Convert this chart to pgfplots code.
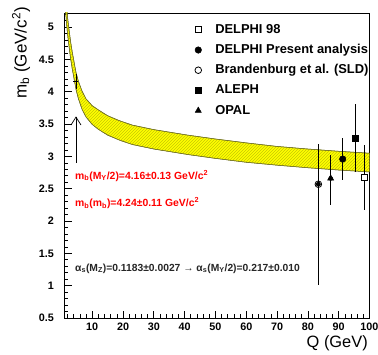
\documentclass[border=0pt]{standalone}
\usepackage{fontspec}
\setmainfont{Liberation Sans}
\usepackage{pgfplots}
\pgfplotsset{compat=1.18}
\usetikzlibrary{patterns,arrows.meta}
\definecolor{bandyellow}{RGB}{255,255,0}
\definecolor{hatch}{RGB}{200,200,0}
\definecolor{bandedge}{RGB}{110,110,40}
\begin{document}
\begin{tikzpicture}
\useasboundingbox (0,0) rectangle (378pt,354pt);
\begin{axis}[
  at={(64.5pt,36pt)}, anchor=south west,
  scale only axis, width=305pt, height=305pt,
  xmin=1, xmax=100, ymin=0.5, ymax=5.22,
  clip mode=individual,
  xtick={10,20,...,100}, ytick={0.5,1,1.5,2,2.5,3,3.5,4,4.5,5},
  minor xtick={2,4,...,98},
  minor ytick={0.6,0.7,0.8,0.9,1.1,1.2,1.3,1.4,1.6,1.7,1.8,1.9,2.1,2.2,2.3,2.4,2.6,2.7,2.8,2.9,3.1,3.2,3.3,3.4,3.6,3.7,3.8,3.9,4.1,4.2,4.3,4.4,4.6,4.7,4.8,4.9,5.1,5.2},
  tick pos=left, tick align=inside,
  major tick length=7pt, minor tick length=3.5pt,
  axis line style={line width=0.9pt},
  every tick/.style={black, line width=0.7pt},
  ticklabel style={font=\bfseries\fontsize{10.8}{12}\selectfont},
  yticklabel style={xshift=-7pt},
  xticklabel style={yshift=-1pt},
  /pgf/number format/assume math mode=true,
  legend style={at={(rel axis cs:0.415,0.975)}, anchor=north west, draw=none, fill=none,
    font=\bfseries\fontsize{12.9}{14}\selectfont, row sep=6.2pt,
    nodes={inner sep=1pt, text height=9.5pt, text depth=2.5pt}},
  legend cell align=left,
  legend image code/.code={\path[draw=none,fill=none] (-4pt,0pt) -- (16pt,0pt); \draw[#1] plot coordinates {(0pt,0pt)};},
]
% band
\addplot[forget plot, fill=bandyellow, draw=bandedge, line width=0.5pt,
  postaction={pattern=north east lines, pattern color=hatch}] coordinates {
(1.3,5.55) (1.6,5.35) (2.0,5.15) (2.5,4.95) (3.0,4.77) (3.5,4.62) (4.0,4.49) (4.73,4.30)
(5.5,4.165) (6.7,4.01) (8.0,3.89) (10,3.785) (12,3.72) (15,3.63) (19,3.55) (23,3.485)
(30,3.415) (41,3.33) (50,3.27) (60,3.21) (70,3.155) (80,3.115) (90,3.08) (100,3.05)
(100,2.76) (90,2.79) (80,2.825) (70,2.865) (60,2.91) (50,2.97) (41,3.03) (30,3.115)
(23,3.185) (19,3.25) (15,3.33) (12,3.42) (10,3.495) (8.0,3.61) (6.7,3.73) (5.5,3.895)
(4.73,4.04) (4.0,4.23) (3.5,4.36) (3.0,4.51) (2.5,4.69) (2.0,4.89) (1.6,5.09) (1.3,5.29)
};
% total error bars
\addplot[forget plot, only marks, mark=none, black,
  error bars/.cd, y dir=both, y explicit, error mark=none,
  error bar style={black, line width=0.8pt}] coordinates {
(98.2,2.68) += (0,0.50) -= (0,0.51)
(91.3,2.96) += (0,0.32) -= (0,0.32)
(83.4,2.57) += (0,0.63) -= (0,1.56)
(95.3,3.28) += (0,0.53) -= (0,0.52)
(87.4,2.66) += (0,0.37) -= (0,0.41)
};
% stat error bars
\addplot[forget plot, only marks, mark=none, black,
  error bars/.cd, y dir=both, y explicit,
  error bar style={black, line width=0.8pt},
  error mark options={black, mark size=4pt, line width=0.8pt}] coordinates {
(98.2,2.68) +- (0,0.25)
(91.3,2.96) += (0,0.17) -= (0,0.18)
(83.4,2.57) += (0,0.26) -= (0,0.27)
(95.3,3.28) +- (0,0.22)
};
% point at M_Y/2
\addplot[forget plot, only marks, mark=+, mark size=2.5pt, black, line width=0.8pt,
  error bars/.cd, y dir=both, y explicit, error mark=none,
  error bar style={black, line width=0.8pt}] coordinates {(4.73,4.16) +- (0,0.12)};
% markers
\addplot[only marks, mark=square*, mark size=3pt, black, mark options={fill=white, line width=0.8pt}]
  coordinates {(98.2,2.68)};
\addlegendentry{DELPHI 98}
\addplot[only marks, mark=*, mark size=3.3pt, black] coordinates {(91.3,2.96)};
\addlegendentry{DELPHI Present analysis}
\addplot[only marks, mark=o, mark size=3.3pt, black, mark options={fill=white, line width=0.8pt}]
  coordinates {(83.4,2.57)};
\addlegendentry{Brandenburg et al. (SLD)}
\addplot[only marks, mark=square*, mark size=3pt, black] coordinates {(95.3,3.28)};
\addlegendentry{ALEPH}
\addplot[only marks, mark=triangle*, mark size=3.6pt, black] coordinates {(87.4,2.66)};
\addlegendentry{OPAL}
% annotations
\draw[-{Straight Barb[length=8pt,width=10pt]}, line width=0.7pt] (axis cs:4.73,2.9) -- (axis cs:4.73,3.62);
\node[anchor=base west, inner sep=0pt, red, font=\bfseries\fontsize{10.4}{12}\selectfont]
  at (axis cs:4.4,2.65) {m\textsubscript{b}(M\textsubscript{Υ}/2)=4.16±0.13 GeV/c\textsuperscript{2}};
\node[anchor=base west, inner sep=0pt, red, font=\bfseries\fontsize{10.4}{12}\selectfont]
  at (axis cs:4.4,2.23) {m\textsubscript{b}(m\textsubscript{b})=4.24±0.11 GeV/c\textsuperscript{2}};
\node[anchor=base west, inner sep=0pt, black!85, font=\bfseries\fontsize{10.3}{12}\selectfont]
  at (axis cs:4.4,1.227) {α\textsubscript{s}(M\textsubscript{Z})=0.1183±0.0027 → α\textsubscript{s}(M\textsubscript{Υ}/2)=0.217±0.010};
% axis labels
\node[rotate=90, anchor=east, inner sep=0pt, font=\fontsize{17}{19}\selectfont]
  at (rel axis cs:-0.1426,1.0197) {m\textsubscript{b} (GeV/c\textsuperscript{2})};
\node[anchor=east, inner sep=0pt, font=\fontsize{16.4}{18}\selectfont]
  at (rel axis cs:0.995,-0.082) {Q (GeV)};
\end{axis}
\end{tikzpicture}
\end{document}
